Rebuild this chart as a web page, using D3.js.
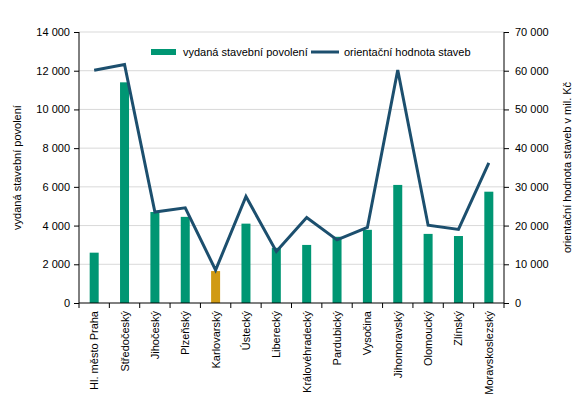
<!DOCTYPE html>
<html>
<head>
<meta charset="utf-8">
<script src="https://cdn.jsdelivr.net/npm/d3@7"></script>
<style>
  body { margin: 0; background: #fff; }
  svg { font-family: "Liberation Sans", Arial, sans-serif; }
  .axis text { font-size: 11px; fill: #000; }
  .axis path, .axis line { stroke: #000; }
</style>
</head>
<body>
<div id="chart"></div>
<script>
const regions = ['Hl. město Praha', 'Středočeský', 'Jihočeský', 'Plzeňský', 'Karlovarský', 'Ústecký',
  'Liberecký', 'Královéhradecký', 'Pardubický', 'Vysočina', 'Jihomoravský', 'Olomoucký', 'Zlínský', 'Moravskoslezský'];
const permits = [2600, 11400, 4700, 4450, 1650, 4100, 2850, 3000, 3420, 3780, 6100, 3570, 3460, 5750];
const values = [60100, 61600, 23500, 24600, 8500, 27500, 13300, 22100, 16300, 19500, 60200, 20100, 19000, 36200];
const leftTicks = [0, 2000, 4000, 6000, 8000, 10000, 12000, 14000];
const rightTicks = [0, 10000, 20000, 30000, 40000, 50000, 60000, 70000];
const highlight = 'Karlovarský';

const width = 579, height = 406;
const area = { left: 79, right: 504, top: 32, bottom: 303 };

const svg = d3.select('#chart').append('svg')
  .attr('width', width).attr('height', height);

const x = d3.scaleBand().domain(regions).range([area.left, area.right]);
const yL = d3.scaleLinear().domain([0, 14000]).range([area.bottom, area.top]);
const yR = d3.scaleLinear().domain([0, 70000]).range([area.bottom, area.top]);

const fmt = d => d3.format(',')(d).replace(/,/g, '\u00a0');

// gridlines
svg.append('g')
  .selectAll('line')
  .data(leftTicks.slice(1))
  .join('line')
  .attr('x1', area.left).attr('x2', area.right)
  .attr('y1', d => yL(d)).attr('y2', d => yL(d))
  .attr('stroke', '#d9d9d9').attr('stroke-width', 1);

// bars
svg.append('g')
  .selectAll('rect')
  .data(regions)
  .join('rect')
  .attr('x', d => x(d) + x.bandwidth() / 2 - 4.5)
  .attr('width', 9)
  .attr('y', (d, i) => yL(permits[i]))
  .attr('height', (d, i) => area.bottom - yL(permits[i]))
  .attr('fill', d => d === highlight ? '#d09a14' : '#009673');

// line
const line = d3.line()
  .x((d, i) => x(regions[i]) + x.bandwidth() / 2)
  .y(d => yR(d));
svg.append('path')
  .datum(values)
  .attr('d', line)
  .attr('fill', 'none')
  .attr('stroke', '#1c4f6e')
  .attr('stroke-width', 3)
  .attr('stroke-linejoin', 'miter');

// axes
svg.append('g').attr('class', 'axis')
  .attr('transform', `translate(${area.left},0)`)
  .call(d3.axisLeft(yL).tickValues(leftTicks).tickFormat(fmt).tickSize(5).tickPadding(4))
  .call(g => g.select('.domain').attr('d', `M0,${area.bottom}V${area.top}`));

svg.append('g').attr('class', 'axis')
  .attr('transform', `translate(${area.right},0)`)
  .call(d3.axisRight(yR).tickValues(rightTicks).tickFormat(fmt).tickSize(5).tickPadding(6))
  .call(g => g.select('.domain').attr('d', `M0,${area.bottom}V${area.top}`));

const xAxis = svg.append('g').attr('class', 'axis')
  .attr('transform', `translate(0,${area.bottom})`);
xAxis.append('line')
  .attr('x1', area.left).attr('x2', area.right)
  .attr('stroke', '#000');
xAxis.selectAll('.tick')
  .data(d3.range(regions.length + 1))
  .join('line')
  .attr('x1', i => area.left + i * x.step()).attr('x2', i => area.left + i * x.step())
  .attr('y1', 0).attr('y2', 5)
  .attr('stroke', '#000');
xAxis.selectAll('text')
  .data(regions)
  .join('text')
  .attr('transform', d => `translate(${x(d) + x.bandwidth() / 2 + 4},8) rotate(-90)`)
  .attr('text-anchor', 'end')
  .style('font-size', '11px')
  .text(d => d);

// axis titles
svg.append('text')
  .attr('transform', `translate(21,${(area.top + area.bottom) / 2}) rotate(-90)`)
  .attr('text-anchor', 'middle')
  .style('font-size', '11px')
  .attr('fill', '#000')
  .text('vydaná stavební povolení');

svg.append('text')
  .attr('transform', `translate(571,${(area.top + area.bottom) / 2}) rotate(-90)`)
  .attr('text-anchor', 'middle')
  .style('font-size', '11px')
  .attr('fill', '#000')
  .text('orientační hodnota staveb v mil. Kč');

// legend
const legend = svg.append('g');
legend.append('rect')
  .attr('x', 151).attr('y', 49).attr('width', 25).attr('height', 6)
  .attr('fill', '#009673');
legend.append('text')
  .attr('x', 183).attr('y', 56)
  .style('font-size', '11px')
  .text('vydaná stavební povolení');
legend.append('line')
  .attr('x1', 311).attr('x2', 339).attr('y1', 52).attr('y2', 52)
  .attr('stroke', '#1c4f6e').attr('stroke-width', 3);
legend.append('text')
  .attr('x', 344).attr('y', 56)
  .style('font-size', '11px')
  .text('orientační hodnota staveb');
</script>
</body>
</html>
